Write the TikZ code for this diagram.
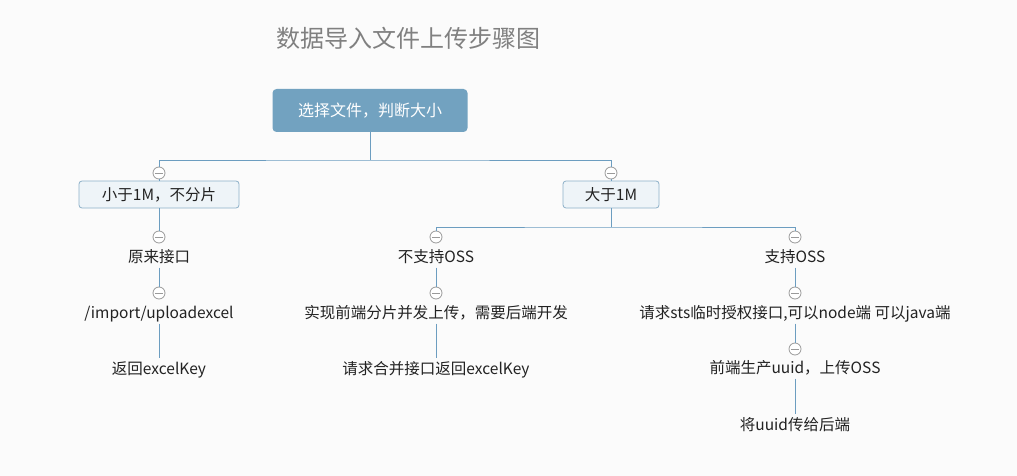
\documentclass[tikz,border=0pt]{standalone}
\usepackage{fontspec}
\setmainfont{Noto Sans CJK SC}
\definecolor{rootblue}{HTML}{72A2C0}
\definecolor{linkblue}{HTML}{6C9DC0}
\definecolor{subfill}{HTML}{EEF4F8}
\definecolor{subdraw}{HTML}{8DB0C8}
\definecolor{knobgray}{HTML}{9A9A9A}
\definecolor{titlegray}{HTML}{808080}
\definecolor{paper}{HTML}{FBFBFB}
\definecolor{ink}{HTML}{222222}

\tikzset{
  rootbox/.style={fill=rootblue, rounded corners=4pt, minimum width=195pt, minimum height=43pt,
    inner sep=0pt, text=white, font=\fontsize{16}{19}\selectfont},
  subbox/.style={draw=subdraw, line width=0.8pt, fill=subfill, rounded corners=3pt, minimum height=27pt,
    inner sep=0pt, text=ink, font=\fontsize{15.5}{18}\selectfont, text height=13pt, text depth=2pt},
  leaf/.style={inner sep=3pt, text=ink, font=\fontsize{15.5}{18}\selectfont, text height=13pt, text depth=2pt},
  knob/.style={circle, draw=knobgray, line width=0.8pt, fill=white, minimum size=12pt, inner sep=0pt,
    path picture={\draw[knobgray, line width=0.8pt] ([xshift=-3.6pt]path picture bounding box.center)
      -- ([xshift=3.6pt]path picture bounding box.center);}},
  link/.style={draw=linkblue, line width=0.9pt}
}

\begin{document}
\begin{tikzpicture}[x=1pt,y=-1pt]
                \fill[paper] (0,0) rectangle (1017,476);
                \useasboundingbox (0,0) rectangle (1017,476);

                \node[text=titlegray, font=\fontsize{24}{28}\selectfont] (title) at(408,38) {数据导入文件上传步骤图};

                \node[rootbox] (root) at(370,110.5) {选择文件，判断大小};
                \coordinate (rbus) at(370,160);

                \node[knob] (kl) at(159,173) {};
                \node[subbox, minimum width=160pt] (small) at(159,194.5) {小于1M，不分片};
                \node[knob] (kr) at(611,173) {};
                \node[subbox, minimum width=96pt] (big) at(611,194.5) {大于1M};

                \draw[link] (root) -- (rbus);
                \draw[link] (kl) |- (rbus) -| (kr);
                \draw[link] (kl) -- (small);
                \draw[link] (kr) -- (big);

                \node[knob] (kl1) at(159,237) {};
                \node[leaf] (old) at(159,257) {原来接口};
                \node[knob] (kl2) at(159,293) {};
                \node[leaf] (api) at(159,313) {/import/uploadexcel};
                \node[leaf] (back) at(159,369) {返回excelKey};
                \draw[link] (small) -- (kl1);
                \draw[link] (old) -- (kl2);
                \draw[link] (api) -- (back);

                \coordinate (bbus) at(611,227);
                \node[knob] (kn1) at(436,237) {};
                \node[leaf] (nooss) at(436,257) {不支持OSS};
                \node[knob] (kn2) at(436,293) {};
                \node[leaf] (chunk) at(436,313) {实现前端分片并发上传，需要后端开发};
                \node[leaf] (merge) at(436,369) {请求合并接口返回excelKey};
                \node[knob] (ko1) at(795,237) {};
                \node[leaf] (oss) at(795,257) {支持OSS};
                \node[knob] (ko2) at(795,293) {};
                \node[leaf] (sts) at(795,313) {请求sts临时授权接口,可以node端 可以java端};
                \node[knob] (ko3) at(795,349) {};
                \node[leaf] (uuid) at(795,368) {前端生产uuid，上传OSS};
                \node[leaf] (give) at(795,425) {将uuid传给后端};

                \draw[link] (big) -- (bbus);
                \draw[link] (kn1) |- (bbus) -| (ko1);
                \draw[link] (nooss) -- (kn2);
                \draw[link] (chunk) -- (merge);
                \draw[link] (oss) -- (ko2);
                \draw[link] (sts) -- (ko3);
                \draw[link] (uuid) -- (give);
            \end{tikzpicture}
\end{document}
